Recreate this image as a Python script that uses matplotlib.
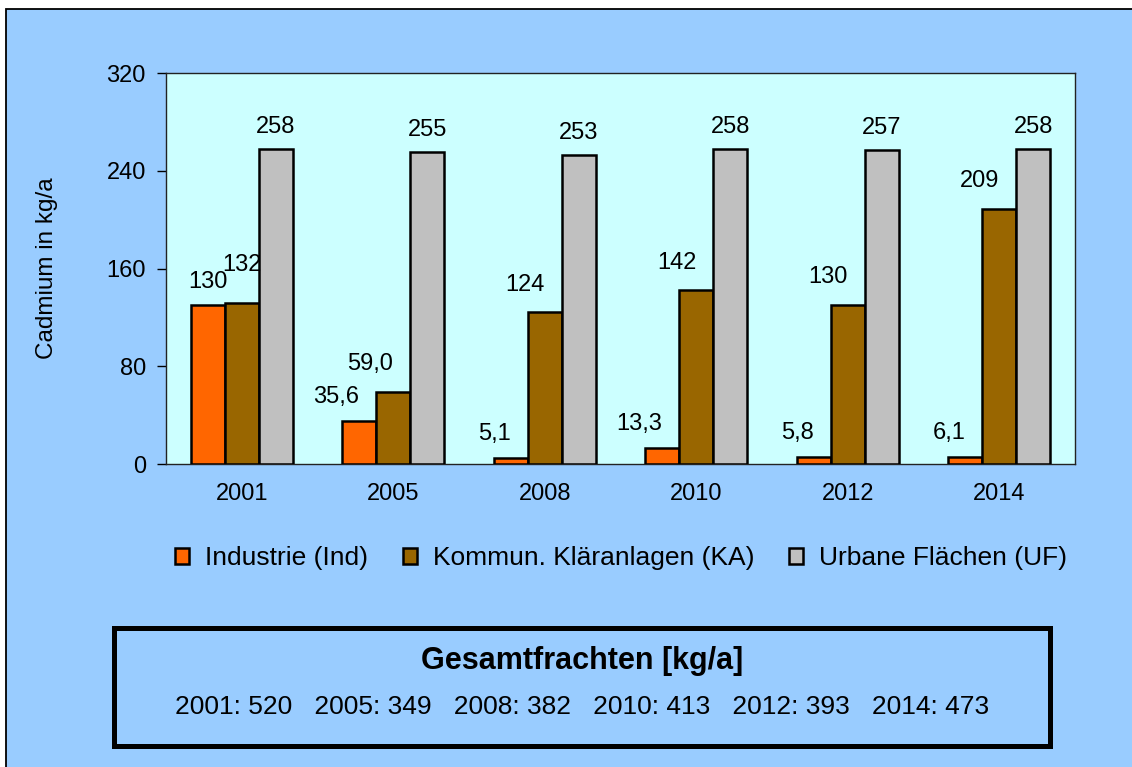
import matplotlib
matplotlib.use("Agg")
import matplotlib.pyplot as plt
import numpy as np
from matplotlib.patches import Rectangle

plt.rcParams["font.family"] = ["Liberation Sans", "DejaVu Sans"]

YEARS = ["2001", "2005", "2008", "2010", "2012", "2014"]
SERIES = ["Industrie (Ind)", "Kommun. Kläranlagen (KA)", "Urbane Flächen (UF)"]
IND = [130, 35.6, 5.1, 13.3, 5.8, 6.1]
KA = [132, 59.0, 124, 142, 130, 209]
UF = [258, 255, 253, 258, 257, 258]
TOTALS = [520, 349, 382, 413, 393, 473]

COLORS = ["#FF6600", "#996600", "#C0C0C0"]
BG = "#99CCFF"
PLOT_BG = "#CCFFFF"

# label alignment for the first two series (Excel pushed most of them left)
LABEL_HA = ["center", "right", "right", "right", "right", "right"]
LABEL_DY = [17, 20, 16]


def fmt(v: float) -> str:
    if v >= 100:
        return f"{v:.0f}"
    return f"{v:.1f}".replace(".", ",")


W, H = 1132, 767
fig = plt.figure(figsize=(W / 100, H / 100), dpi=100, facecolor="white")

# blue chart area with black frame on top/left
fig.patches.append(Rectangle((6 / W, -0.2), 1.2, 1.2 - 9 / H, transform=fig.transFigure,
                             facecolor=BG, edgecolor="black", lw=1.3, zorder=-10))

ax = fig.add_axes([166 / W, 1 - 464 / H, (1075 - 166) / W, (464 - 73) / H])
ax.set_facecolor(PLOT_BG)

x = np.arange(len(YEARS))
bw = 0.224
all_vals = [IND, KA, UF]
for k, (vals, name, col) in enumerate(zip(all_vals, SERIES, COLORS)):
    pos = x + (k - 1) * bw
    ax.bar(pos, vals, width=bw, color=col, edgecolor="black", linewidth=1.8,
           label=name, zorder=3)
    for i, (p, v) in enumerate(zip(pos, vals)):
        ha = "center" if k == 2 else LABEL_HA[i]
        dy = LABEL_DY[k]
        if k == 1 and i == 0:
            dy = 27
        ax.annotate(fmt(v), (p, v), xytext=(0, dy), textcoords="offset points",
                    ha=ha, va="center", fontsize=17, zorder=4)

ax.set_xlim(-0.5, len(YEARS) - 0.5)
ax.set_ylim(0, 320)
ax.set_yticks([0, 80, 160, 240, 320])
ax.set_xticks(x)
ax.set_xticklabels(YEARS)
ax.tick_params(axis="y", direction="out", length=6.5, width=1, labelsize=17, pad=8)
ax.tick_params(axis="x", length=0, labelsize=17, pad=14)
for s in ax.spines.values():
    s.set_linewidth(1.0)
    s.set_color("#222222")
ax.set_ylabel("Cadmium in kg/a", fontsize=17.5)
ax.yaxis.set_label_coords(-108 / (1075 - 166), 0.5)

fig.legend(loc="center", bbox_to_anchor=(621 / W, 1 - 558 / H), ncol=3, frameon=False,
           fontsize=19, handlelength=0.55, handleheight=0.55, handletextpad=0.6,
           columnspacing=1.3)

# Gesamtfrachten box
fig.patches.append(Rectangle((114 / W, 1 - 746 / H), (1050 - 114) / W, (746 - 628) / H,
                             transform=fig.transFigure, facecolor="none",
                             edgecolor="black", lw=3.6, zorder=2))
fig.text(582 / W, 1 - 661 / H, "Gesamtfrachten [kg/a]", ha="center", va="center",
         fontsize=22, fontweight="bold")
totals_line = "   ".join(f"{y}: {t}" for y, t in zip(YEARS, TOTALS))
fig.text(582 / W, 1 - 707 / H, totals_line, ha="center", va="center", fontsize=19)

fig.savefig("out.png", dpi=100, facecolor=fig.get_facecolor())
